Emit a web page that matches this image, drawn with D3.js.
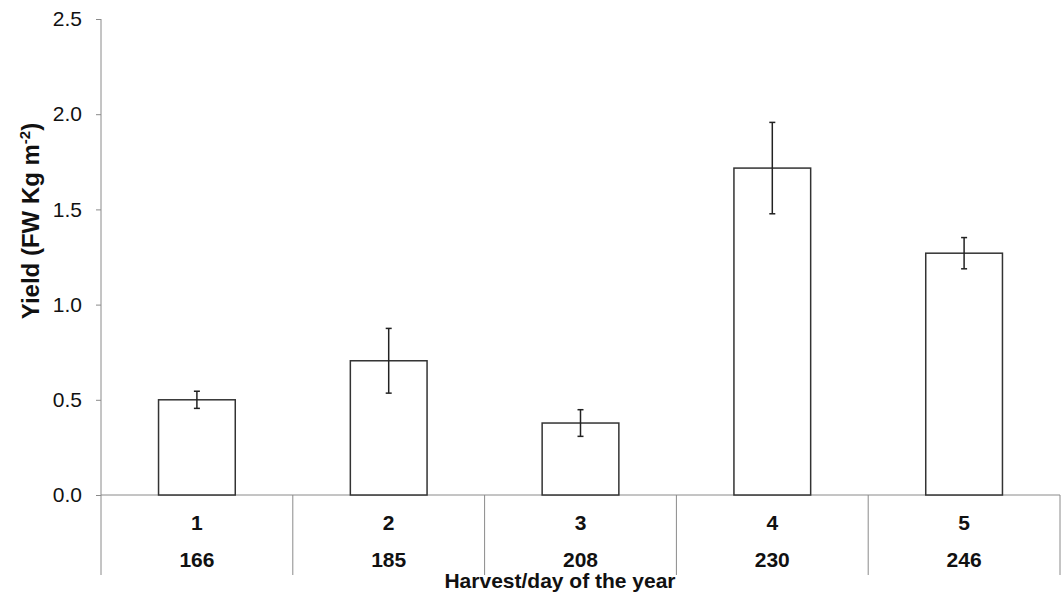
<!DOCTYPE html>
<html>
<head>
<meta charset="utf-8">
<script src="https://cdn.jsdelivr.net/npm/d3@7"></script>
<style>
  body { margin: 0; background: #fff; }
  text { font-family: "Liberation Sans", Arial, sans-serif; fill: #111; }
</style>
</head>
<body>
<div id="chart-area"></div>
<script>
const harvests = ['1', '2', '3', '4', '5'];
const days = ['166', '185', '208', '230', '246'];
const yieldMean = [0.50, 0.705, 0.378, 1.717, 1.27];
const yieldErr = [0.045, 0.17, 0.07, 0.24, 0.082];
const yTicks = [0, 0.5, 1.0, 1.5, 2.0, 2.5];

const width = 1064;
const height = 592;
const margin = { left: 101, right: 4, top: 19, bottom: 97 };

const svg = d3.select('#chart-area').append('svg')
  .attr('width', width)
  .attr('height', height);

const x = d3.scaleBand()
  .domain(harvests)
  .range([margin.left, width - margin.right])
  .paddingInner(0.6)
  .paddingOuter(0.3);

const xSep = d3.scaleBand()
  .domain(harvests)
  .range([margin.left, width - margin.right]);

const y = d3.scaleLinear()
  .domain([0, 2.5])
  .range([height - margin.bottom, margin.top]);

const axisColor = '#8a8a8a';
const y0 = y(0);

// y axis
const yAxis = svg.append('g')
  .attr('transform', `translate(${margin.left},0)`)
  .call(d3.axisLeft(y).tickValues(yTicks).tickFormat(d3.format('.1f')).tickSize(5).tickPadding(14));
yAxis.select('.domain').remove();
yAxis.selectAll('line').attr('stroke', axisColor);
yAxis.selectAll('text').style('font-size', '21px').attr('fill', '#222');

svg.append('line')
  .attr('x1', margin.left).attr('x2', margin.left)
  .attr('y1', y(2.5)).attr('y2', y0 + 80)
  .attr('stroke', axisColor);

// x axis baseline
svg.append('line')
  .attr('x1', margin.left).attr('x2', width - margin.right)
  .attr('y1', y0).attr('y2', y0)
  .attr('stroke', axisColor);

// category separators
svg.selectAll('.sep')
  .data(harvests)
  .enter().append('line')
    .attr('class', 'sep')
    .attr('x1', d => xSep(d) + xSep.bandwidth())
    .attr('x2', d => xSep(d) + xSep.bandwidth())
    .attr('y1', y0)
    .attr('y2', y0 + 80)
    .attr('stroke', axisColor);

// bars
svg.selectAll('.bar')
  .data(harvests)
  .enter().append('rect')
    .attr('class', 'bar')
    .attr('x', d => x(d))
    .attr('y', (d, i) => y(yieldMean[i]))
    .attr('width', x.bandwidth())
    .attr('height', (d, i) => y0 - y(yieldMean[i]))
    .attr('fill', '#fff')
    .attr('stroke', '#333')
    .attr('stroke-width', 1.5);

// error bars
const err = svg.selectAll('.err')
  .data(harvests)
  .enter().append('g')
    .attr('class', 'err')
    .attr('stroke', '#222')
    .attr('stroke-width', 1.5);

const cx = d => x(d) + x.bandwidth() / 2;
err.append('line')
  .attr('x1', cx).attr('x2', cx)
  .attr('y1', (d, i) => y(yieldMean[i] + yieldErr[i]))
  .attr('y2', (d, i) => y(yieldMean[i] - yieldErr[i]));
err.append('line')
  .attr('x1', d => cx(d) - 3).attr('x2', d => cx(d) + 3)
  .attr('y1', (d, i) => y(yieldMean[i] + yieldErr[i]))
  .attr('y2', (d, i) => y(yieldMean[i] + yieldErr[i]));
err.append('line')
  .attr('x1', d => cx(d) - 3).attr('x2', d => cx(d) + 3)
  .attr('y1', (d, i) => y(yieldMean[i] - yieldErr[i]))
  .attr('y2', (d, i) => y(yieldMean[i] - yieldErr[i]));

// category labels (two rows)
svg.selectAll('.harv')
  .data(harvests)
  .enter().append('text')
    .attr('class', 'harv')
    .attr('x', d => xSep(d) + xSep.bandwidth() / 2)
    .attr('y', y0 + 35)
    .attr('text-anchor', 'middle')
    .style('font-size', '21px')
    .style('font-weight', 'bold')
    .text(d => d);

svg.selectAll('.day')
  .data(days)
  .enter().append('text')
    .attr('class', 'day')
    .attr('x', (d, i) => xSep(harvests[i]) + xSep.bandwidth() / 2)
    .attr('y', y0 + 72)
    .attr('text-anchor', 'middle')
    .style('font-size', '21px')
    .style('font-weight', 'bold')
    .text(d => d);

// axis titles
svg.append('text')
  .attr('x', 560)
  .attr('y', 588)
  .attr('text-anchor', 'middle')
  .style('font-size', '21px')
  .style('font-weight', 'bold')
  .text('Harvest/day of the year');

const yTitle = svg.append('text')
  .attr('transform', 'translate(39,221) rotate(-90)')
  .attr('text-anchor', 'middle')
  .style('font-size', '24px')
  .style('font-weight', 'bold');
yTitle.append('tspan').text('Yield (FW Kg m');
yTitle.append('tspan').attr('dy', -9).style('font-size', '15px').text('-2');
yTitle.append('tspan').attr('dy', 9).text(')');
</script>
</body>
</html>
